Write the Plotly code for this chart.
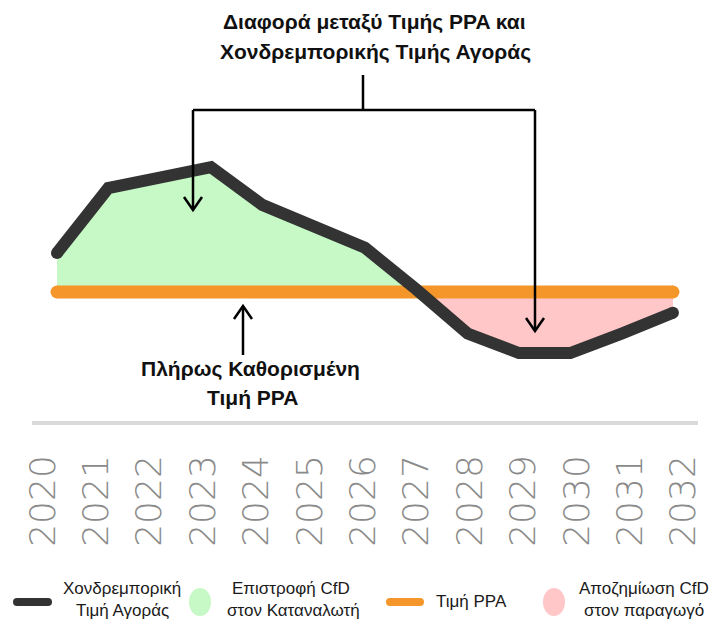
import plotly.graph_objects as go

# ---- data ----
years = list(range(2020, 2033))
market_price = [65, 90, 94, 98, 83.5, 75.5, 67, 51, 34, 26.5, 26.5, 34, 42]
ppa_price = 50

W, H = 715, 624

BLACK = "#333333"
ORANGE = "#f5962a"
GREEN = "#c6f9c6"
PINK = "#ffc7c7"
TICK_GREY = "#8a8a8a"
TEXT_FONT = "Liberation Sans, Arial, sans-serif"


def px(x):
    return x / W


def py(y):
    return 1 - y / H


def split_at_crossings(xs, ys, level):
    """Insert the points where the series crosses `level`."""
    out_x, out_y = [xs[0]], [ys[0]]
    for i in range(1, len(xs)):
        a, b = ys[i - 1] - level, ys[i] - level
        if a * b < 0:
            t = a / (a - b)
            out_x.append(xs[i - 1] + t * (xs[i] - xs[i - 1]))
            out_y.append(level)
        out_x.append(xs[i])
        out_y.append(ys[i])
    return out_x, out_y


fx, fy = split_at_crossings(years, market_price, ppa_price)
ppa_line = [ppa_price] * len(fx)
above = [max(v, ppa_price) for v in fy]
below = [min(v, ppa_price) for v in fy]

fig = go.Figure()

# green: market above PPA
fig.add_trace(go.Scatter(x=fx, y=ppa_line, mode="lines", line=dict(width=0), hoverinfo="skip"))
fig.add_trace(go.Scatter(x=fx, y=above, mode="lines", line=dict(width=0),
                         fill="tonexty", fillcolor=GREEN, hoverinfo="skip"))
# pink: market below PPA
fig.add_trace(go.Scatter(x=fx, y=ppa_line, mode="lines", line=dict(width=0), hoverinfo="skip"))
fig.add_trace(go.Scatter(x=fx, y=below, mode="lines", line=dict(width=0),
                         fill="tonexty", fillcolor=PINK, hoverinfo="skip"))

# PPA price, with round end caps
fig.add_trace(go.Scatter(
    x=[years[0], years[-1]], y=[ppa_price, ppa_price], mode="lines+markers",
    line=dict(color=ORANGE, width=13), marker=dict(size=13, color=ORANGE, line=dict(width=0)),
))
# wholesale market price
fig.add_trace(go.Scatter(x=years, y=market_price, mode="lines", line=dict(color=BLACK, width=12)))
fig.add_trace(go.Scatter(
    x=[years[0], years[-1]], y=[market_price[0], market_price[-1]], mode="markers",
    marker=dict(size=12, color=BLACK, opacity=1, line=dict(width=0)),
))

# dummy trace so the year-label axis is drawn
fig.add_trace(go.Scatter(x=[years[0]], y=[ppa_price], xaxis="x2", mode="markers",
                         marker=dict(size=0, opacity=0), hoverinfo="skip"))


def line_px(x0, y0, x1, y1, width=2.5, color="black"):
    fig.add_shape(type="line", xref="paper", yref="paper",
                  x0=px(x0), y0=py(y0), x1=px(x1), y1=py(y1),
                  line=dict(color=color, width=width))


def arrow_px(x, y_from, y_to):
    line_px(x, y_from, x, y_to)
    d = 1 if y_to > y_from else -1
    path = (f"M {px(x - 9)},{py(y_to - 13 * d)} L {px(x)},{py(y_to)} "
            f"L {px(x + 9)},{py(y_to - 13 * d)}")
    fig.add_shape(type="path", xref="paper", yref="paper", path=path,
                  line=dict(color="black", width=2.5))


def pill_px(x0, x1, y, h, color):
    r = h / 2
    path = (f"M {px(x0)},{py(y - r)} L {px(x1)},{py(y - r)} "
            f"Q {px(x1 + r)},{py(y - r)} {px(x1 + r)},{py(y)} "
            f"Q {px(x1 + r)},{py(y + r)} {px(x1)},{py(y + r)} "
            f"L {px(x0)},{py(y + r)} "
            f"Q {px(x0 - r)},{py(y + r)} {px(x0 - r)},{py(y)} "
            f"Q {px(x0 - r)},{py(y - r)} {px(x0)},{py(y - r)} Z")
    fig.add_shape(type="path", xref="paper", yref="paper", path=path,
                  fillcolor=color, line=dict(width=0))


def ellipse_px(cx, cy, w, h, color):
    fig.add_shape(type="circle", xref="paper", yref="paper",
                  x0=px(cx - w / 2), x1=px(cx + w / 2), y0=py(cy + h / 2), y1=py(cy - h / 2),
                  fillcolor=color, line=dict(width=0))


def text_px(x, y, s, size=17, bold=False, color="#1a1a1a"):
    fig.add_annotation(x=px(x), y=py(y), xref="paper", yref="paper", text=s,
                       showarrow=False, xanchor="center", yanchor="middle",
                       font=dict(family=TEXT_FONT, size=size, color=color,
                                 weight="bold" if bold else "normal"))


# bracket + arrows
line_px(363, 75, 363, 110)
line_px(193, 110, 535, 110)
arrow_px(193, 110, 210)
arrow_px(535, 110, 331)
arrow_px(243, 355, 306)

# separator under the chart
line_px(32, 423, 698, 423, width=4, color="#d9d9d9")

text_px(374, 22, "Διαφορά μεταξύ Τιμής PPA και", size=21, bold=True, color="#111")
text_px(375, 52, "Χονδρεμπορικής Τιμής Αγοράς", size=21, bold=True, color="#111")
text_px(250, 369, "Πλήρως Καθορισμένη", size=21, bold=True, color="#111")
text_px(252, 397, "Τιμή PPA", size=21, bold=True, color="#111")

# legend
pill_px(17, 48, 602, 8, BLACK)
text_px(122, 588, "Χονδρεμπορική")
text_px(122, 610, "Τιμή Αγοράς")
ellipse_px(200, 602, 22, 28, GREEN)
text_px(291, 588, "Επιστροφή CfD")
text_px(293, 610, "στον Καταναλωτή")
pill_px(390, 420, 602, 8, ORANGE)
text_px(471, 601, "Τιμή PPA")
ellipse_px(554, 602, 22, 28, PINK)
text_px(644, 588, "Αποζημίωση CfD")
text_px(644, 610, "στον παραγωγό")

fig.update_layout(
    width=W, height=H,
    margin=dict(l=0, r=0, t=0, b=0),
    paper_bgcolor="white", plot_bgcolor="white",
    showlegend=False,
    hovermode=False,
    xaxis=dict(range=[2020 - 57 / 51.33, 2020 + (W - 57) / 51.33], visible=False),
    xaxis2=dict(
        overlaying="x", anchor="free", position=py(447), side="bottom",
        range=[2020 - 43 / 53.4, 2020 + (W - 43) / 53.4],
        tickvals=years, ticktext=[str(y) for y in years], tickangle=-90,
        tickfont=dict(family="DejaVu Sans", size=36, color=TICK_GREY, weight=200),
        showgrid=False, zeroline=False, showline=False, ticks="",
    ),
    yaxis=dict(range=[(422 - H) / 2.6, 422 / 2.6], visible=False),
)

# the page's default body margin would shift the 715x624 figure by 8px
fig.write_html("out.html", config={"displayModeBar": False},
               post_script="document.body.style.margin = '0';")
